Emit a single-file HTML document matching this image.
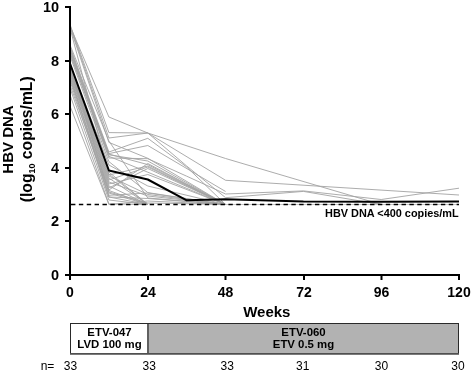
<!DOCTYPE html>
<html><head><meta charset="utf-8"><style>
html,body{margin:0;padding:0;background:#fff;}
body{width:472px;height:374px;overflow:hidden;position:relative;font-family:"Liberation Sans",sans-serif;}
svg{position:absolute;left:0;top:0;will-change:transform;}
text{font-family:"Liberation Sans",sans-serif;}
</style></head><body>
<svg width="472" height="374" viewBox="0 0 472 374">
<g fill="none" stroke="#a3a3a3" stroke-width="0.9" stroke-linejoin="round">
<polyline points="70.0,26.0 108.9,117.0 147.8,133.0 225.6,158.5 381.2,204.5"/>
<polyline points="70.0,24.5 108.9,132.6 147.8,133.0 225.6,180.3 459.0,195.0"/>
<polyline points="70.0,25.7 108.9,138.0 147.8,133.0 186.7,166.0 225.6,197.7 303.4,191.4 381.2,204.5"/>
<polyline points="70.0,27.0 108.9,142.4 147.8,158.3 225.6,204.5"/>
<polyline points="70.0,28.0 108.9,175.0 147.8,166.0 225.6,204.5"/>
<polyline points="70.0,45.0 108.9,141.0 147.8,198.0 225.6,204.5"/>
<polyline points="70.0,46.5 108.9,152.0 147.8,138.3 186.7,167.0 225.6,204.5"/>
<polyline points="70.0,48.0 108.9,153.6 147.8,145.5 225.6,191.5"/>
<polyline points="70.0,49.5 108.9,154.1 147.8,164.6 225.6,204.5"/>
<polyline points="70.0,51.0 108.9,154.8 147.8,161.0 225.6,204.5"/>
<polyline points="70.0,52.5 108.9,158.0 147.8,158.7 186.7,176.2 225.6,194.0 303.4,190.9 381.2,199.5 459.0,188.2"/>
<polyline points="70.0,54.0 108.9,156.3 147.8,172.2 225.6,204.5"/>
<polyline points="70.0,56.0 108.9,161.6 147.8,192.6 225.6,204.5"/>
<polyline points="70.0,106.0 108.9,204.5 147.8,201.0 225.6,204.5"/>
<polyline points="70.0,95.0 108.9,204.0 147.8,204.5"/>
<polyline points="70.0,85.0 108.9,192.0 147.8,203.0 225.6,204.5"/>
<polyline points="70.0,81.0 108.9,197.0 147.8,198.5 225.6,204.5"/>
<polyline points="70.0,79.0 108.9,190.5 147.8,204.5"/>
<polyline points="70.0,88.0 108.9,200.0 147.8,204.5"/>
<polyline points="70.0,77.0 108.9,197.0 147.8,204.5"/>
<polyline points="70.0,75.5 108.9,195.3 147.8,193.0 225.6,204.5"/>
<polyline points="70.0,74.0 108.9,190.0 147.8,163.5 225.6,204.5"/>
<polyline points="70.0,72.5 108.9,188.0 147.8,168.5 225.6,204.5"/>
<polyline points="70.0,71.0 108.9,186.0 147.8,204.5"/>
<polyline points="70.0,70.0 108.9,184.0 147.8,174.5 225.6,204.5"/>
<polyline points="70.0,69.0 108.9,182.0 147.8,196.0 225.6,204.5"/>
<polyline points="70.0,68.0 108.9,180.0 147.8,167.0 225.6,204.5"/>
<polyline points="70.0,67.0 108.9,178.0 147.8,204.5"/>
<polyline points="70.0,66.0 108.9,176.0 147.8,194.5 225.6,204.5"/>
<polyline points="70.0,65.0 108.9,174.0 147.8,204.5"/>
<polyline points="70.0,64.0 108.9,172.0 147.8,204.5"/>
<polyline points="70.0,64.5 108.9,165.0 147.8,186.0 225.6,204.5"/>
<polyline points="70.0,66.5 108.9,193.0 147.8,204.5"/>
</g>
<line x1="226" y1="204.5" x2="459" y2="204.5" stroke="#c8c8c8" stroke-width="1"/>
<line x1="71" y1="204.5" x2="459" y2="204.5" stroke="#000" stroke-width="1.6" stroke-dasharray="4.4 3.47"/>
<polyline points="70.0,63.5 108.9,170.5 147.8,179.5 186.7,200.3 225.6,199.2 303.4,201.6 381.2,201.8 459.0,201.6" fill="none" stroke="#000" stroke-width="2" stroke-linejoin="round"/>
<g stroke="#000" stroke-width="2" fill="none">
<path d="M70 6 V280"/>
<path d="M69 275 H460"/>
<path d="M65 7 H70 M65 61 H70 M65 114 H70 M65 168 H70 M65 221 H70 M65 275 H70"/>
<path d="M148 275 V280 M225.5 275 V280 M304 275 V280 M381.5 275 V280 M459 275 V280"/>
</g>
<g font-weight="bold" font-size="14.5" text-anchor="end" fill="#000">
<text x="59.1" y="12">10</text>
<text x="59.1" y="66">8</text>
<text x="59.1" y="119">6</text>
<text x="59.1" y="173">4</text>
<text x="59.1" y="226">2</text>
<text x="59.1" y="280">0</text>
</g>
<g font-weight="bold" font-size="14" text-anchor="middle" fill="#000">
<text x="70" y="297">0</text>
<text x="148" y="297">24</text>
<text x="225.5" y="297">48</text>
<text x="304" y="297">72</text>
<text x="381.5" y="297">96</text>
<text x="459" y="297">120</text>
</g>
<text x="266.8" y="316.5" font-weight="bold" font-size="15" text-anchor="middle">Weeks</text>
<g transform="translate(13.4,139.5) rotate(-90)"><text x="0" y="0" font-weight="bold" font-size="15" text-anchor="middle">HBV DNA</text></g>
<g transform="translate(32.3,139.3) rotate(-90)"><text x="0" y="0" font-weight="bold" font-size="15.7" text-anchor="middle">(log<tspan font-size="9" dy="3">10</tspan><tspan dy="-3"> copies/mL)</tspan></text></g>
<text x="458.7" y="216.8" font-weight="bold" font-size="10.9" text-anchor="end">HBV DNA &lt;400 copies/mL</text>
<rect x="70.5" y="323.5" width="77.5" height="30.5" fill="#fff" stroke="#2a2a2a" stroke-width="1"/>
<rect x="148" y="323.5" width="310.5" height="30.5" fill="#b2b2b2" stroke="#2a2a2a" stroke-width="1"/>
<path d="M70 353.5 H459" stroke="#505050" stroke-width="1"/>
<path d="M70 354.5 H459" stroke="#7a7a7a" stroke-width="1"/>
<path d="M148 324 V353" stroke="#606060" stroke-width="2"/>
<g font-weight="bold" font-size="11.4" text-anchor="middle">
<text x="109.5" y="335.8">ETV-047</text>
<text x="109.5" y="347.8">LVD 100 mg</text>
<text x="303.5" y="335.8">ETV-060</text>
<text x="303.5" y="347.8">ETV 0.5 mg</text>
</g>
<g font-size="12" text-anchor="middle">
<text x="47.5" y="369.5">n=</text>
<text x="70.4" y="369.5">33</text>
<text x="149.3" y="369.5">33</text>
<text x="227.2" y="369.5">33</text>
<text x="302.8" y="369.5">31</text>
<text x="381.5" y="369.5">30</text>
<text x="458" y="369.5">30</text>
</g>
</svg>
</body></html>
